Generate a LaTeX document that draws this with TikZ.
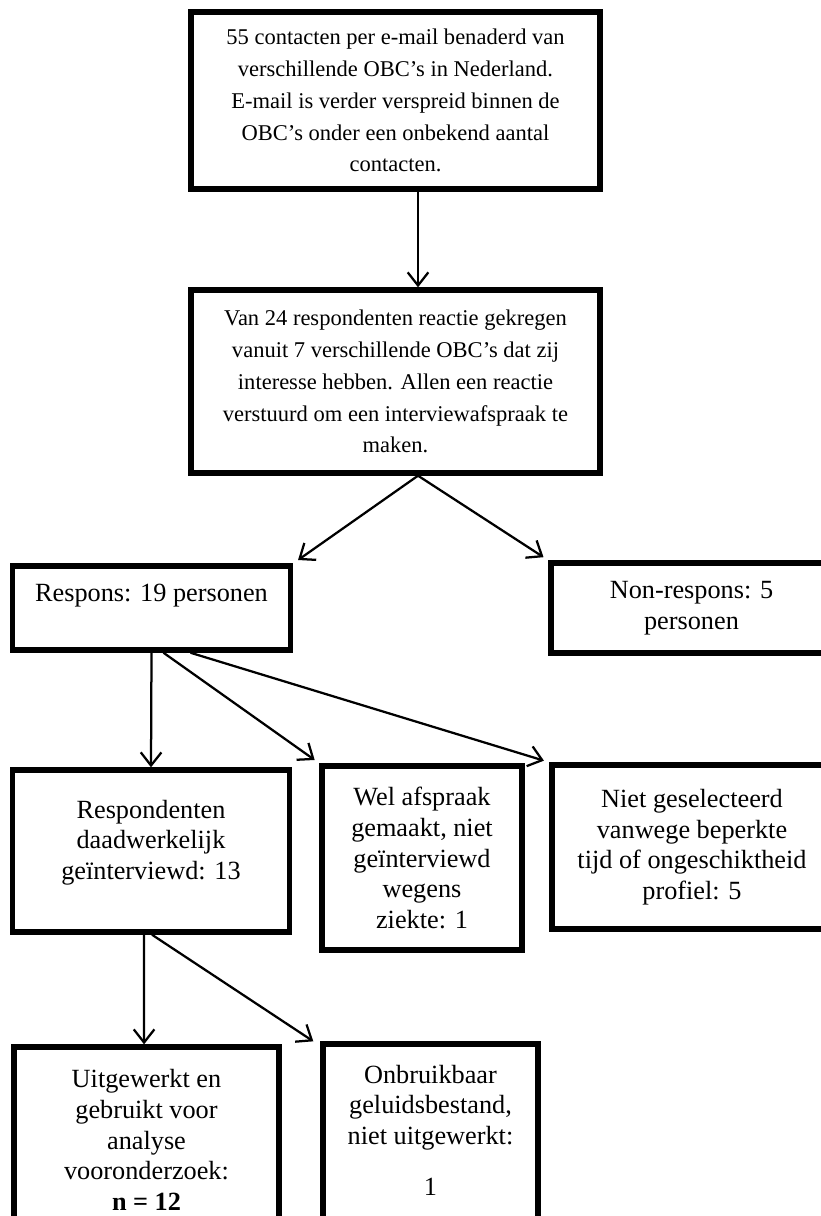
\documentclass[tikz,border=0pt]{standalone}
\usepackage{fontspec}
\setmainfont{Liberation Serif}
\usetikzlibrary{arrows.meta}

\begin{document}
\begin{tikzpicture}[
	x=0.533pt,
	y=-0.533pt,
	>={Straight Barb[length=7pt,width=11pt]},
	top/.style={
		rectangle,
		draw=black,
		line width=2.9pt,
		align=center,
		font=\fontsize{12}{17}\selectfont
	},
	low/.style={
		rectangle,
		draw=black,
		line width=2.9pt,
		align=center,
		font=\fontsize{14}{16.3}\selectfont
	},
]

\useasboundingbox (0, 0) rectangle (821, 1216);

\node[top, minimum width=218pt, minimum height=94.3pt] (mail) at (395.5, 100.5) {55 contacten per e-mail benaderd van\\
	verschillende OBC’s in Nederland.\\
	E-mail is verder verspreid binnen de\\
	OBC’s onder een onbekend aantal\\
	contacten.};

\node[top, minimum width=218pt, minimum height=97.5pt] (reactie) at (395.5, 381.5) {Van 24 respondenten reactie gekregen\\
	vanuit 7 verschillende OBC’s dat zij\\
	interesse hebben. Allen een reactie\\
	verstuurd om een interviewafspraak te\\
	maken.};

\node[low, minimum width=148.4pt, minimum height=44.8pt] (respons) at (151.5, 608) {Respons: 19 personen\\ \mbox{}};
\node[low, minimum width=149.8pt, minimum height=48pt] (nonrespons) at (691.5, 608) {Non-respons: 5\\ personen};

\node[low, minimum width=147.4pt, minimum height=86.3pt, text depth=12pt] (interview) at (151, 851) {Respondenten\\ daadwerkelijk\\ geïnterviewd: 13};
\node[low, minimum width=106.6pt, minimum height=98.1pt] (afspraak) at (422, 858) {Wel afspraak\\ gemaakt, niet\\ geïnterviewd\\ wegens\\ ziekte: 1};
\node[low, minimum width=149.2pt, minimum height=87.4pt] (selectie) at (692, 847) {Niet geselecteerd\\ vanwege beperkte\\ tijd of ongeschiktheid\\ profiel: 5};

\node[low, minimum width=141.2pt, minimum height=99.1pt] (uitgewerkt) at (146.5, 1140) {Uitgewerkt en\\ gebruikt voor\\ analyse\\ vooronderzoek:\\ \textbf{n = 12}};
\node[low, minimum width=114.6pt, minimum height=99.1pt, text depth=7pt] (onbruikbaar) at (430.5, 1137) {Onbruikbaar\\ geluidsbestand,\\ niet uitgewerkt:\\[11pt] 1};

\draw[line width=1.2pt,->] ([xshift=12pt]mail.south) -- ([xshift=12pt]reactie.north);

\draw[line width=1.2pt,->,shorten >=3pt] ([xshift=12pt]reactie.south) -- (respons.north east);
\draw[line width=1.2pt,->,shorten >=3pt] ([xshift=12pt]reactie.south) -- (nonrespons.north west);

\draw[line width=1.2pt,->] (respons.south) -- (interview.north);
\draw[line width=1.2pt,->,shorten >=3pt] ([xshift=6.4pt]respons.south) -- (afspraak.north west);
\draw[line width=1.2pt,->,shorten >=3pt] ([xshift=20.8pt]respons.south) -- (selectie.north west);

\draw[line width=1.2pt,->] ([xshift=-3.7pt]interview.south) -- ([xshift=-1.3pt]uitgewerkt.north);
\draw[line width=1.2pt,->] ([xshift=0.5pt]interview.south) -- ([xshift=-3.7pt]onbruikbaar.north west);

\end{tikzpicture}
\end{document}
